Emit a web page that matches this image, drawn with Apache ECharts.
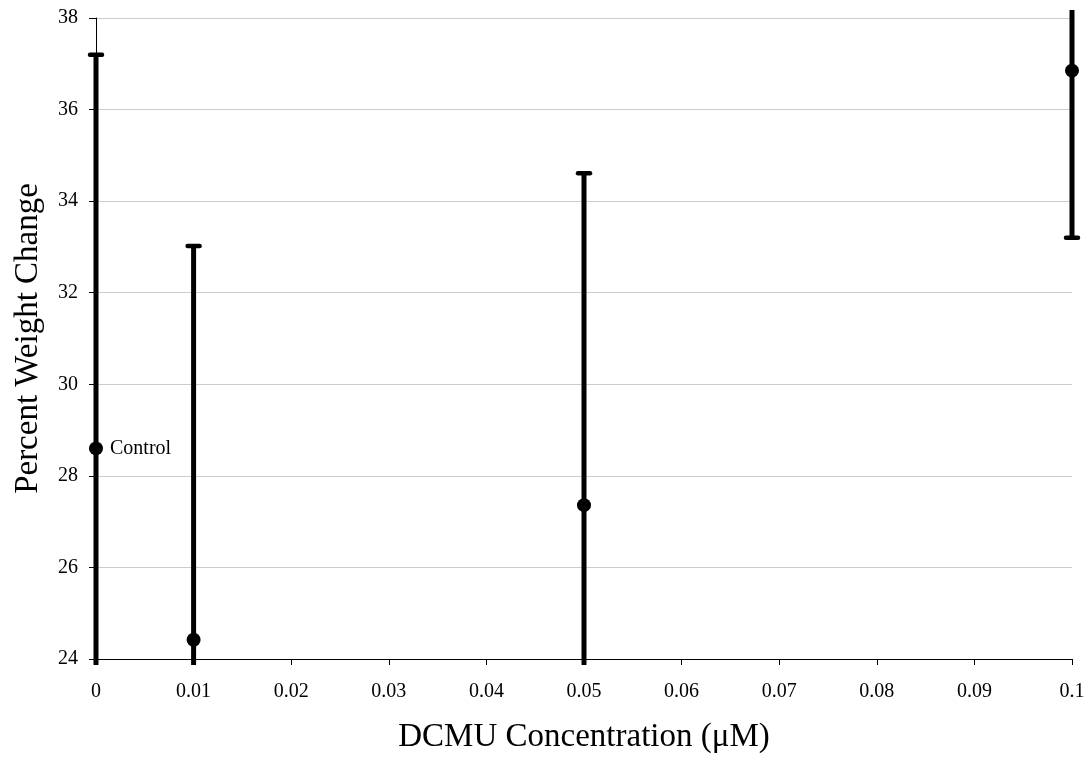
<!DOCTYPE html>
<html><head><meta charset="utf-8">
<script src="https://cdn.jsdelivr.net/npm/echarts@6/dist/echarts.min.js"></script>
<style>html,body{margin:0;padding:0;background:#fff}#c{width:1089px;height:761px}</style>
</head><body><div id="c"></div>
<script>
const concentrations = [0, 0.01, 0.05, 0.1];
const meanChange = [28.6, 24.42, 27.36, 36.85];
const errorAmount = [8.6, 8.6, 7.25, 3.65];
const pointLabels = ['Control', '', '', ''];
const xTicks = [0, 0.01, 0.02, 0.03, 0.04, 0.05, 0.06, 0.07, 0.08, 0.09, 0.1];
const yTicks = [24, 26, 28, 30, 32, 34, 36, 38];

const FONT = '"Liberation Serif","Times New Roman",serif';
const chart = echarts.init(document.getElementById('c'));
const errData = concentrations.map((x, i) => [x, meanChange[i] - errorAmount[i], meanChange[i] + errorAmount[i]]);
const ptData = concentrations.map((x, i) => ({ value: [x, meanChange[i]],
  label: { show: !!pointLabels[i], formatter: pointLabels[i], color: '#000' } }));

chart.setOption({
  animation: false,
  grid: { left: 96, right: 17, top: 18, bottom: 102 },
  xAxis: {
    type: 'value', min: 0, max: 0.1, interval: 0.01,
    name: 'DCMU Concentration (\u03bcM)', nameLocation: 'middle', nameGap: 62,
    nameTextStyle: { fontFamily: FONT, fontSize: 33, color: '#000' },
    axisLine: { show: true, lineStyle: { color: '#000', width: 1 } },
    axisTick: { show: true, length: 6, lineStyle: { color: '#000' } },
    axisLabel: { fontFamily: FONT, fontSize: 20, color: '#000', margin: 23,
      formatter: v => { const t = xTicks.find(k => Math.abs(k - v) < 1e-9); return t === undefined ? '' : String(t); } },
    splitLine: { show: false }
  },
  yAxis: {
    type: 'value', min: 24, max: 38, interval: 2,
    name: 'Percent Weight Change', nameLocation: 'middle', nameGap: 51,
    nameTextStyle: { fontFamily: FONT, fontSize: 33, color: '#000' },
    axisLine: { show: true, lineStyle: { color: '#000', width: 1 } },
    axisTick: { show: true, length: 7, lineStyle: { color: '#000' } },
    axisLabel: { fontFamily: FONT, fontSize: 20, color: '#000', margin: 18,
      formatter: v => { const t = yTicks.find(k => Math.abs(k - v) < 1e-9); return t === undefined ? '' : String(t); } },
    splitLine: { show: true, lineStyle: { color: '#cccccc', width: 1 } }
  },
  series: [
    {
      type: 'custom', clip: false, z: 3,
      data: errData,
      renderItem: (params, api) => {
        const x = api.value(0);
        const lo = api.coord([x, api.value(1)]);
        const hi = api.coord([x, api.value(2)]);
        const cs = params.coordSys;
        const top = cs.y - 8, bottom = cs.y + cs.height + 6;
        const yHi = Math.max(hi[1], top), yLo = Math.min(lo[1], bottom);
        const children = [{ type: 'line', shape: { x1: hi[0], y1: yHi, x2: lo[0], y2: yLo },
          style: { stroke: '#000', lineWidth: 5 } }];
        const capW = 6;
        if (hi[1] >= top) children.push({ type: 'line', shape: { x1: hi[0] - capW, y1: hi[1], x2: hi[0] + capW, y2: hi[1] },
          style: { stroke: '#000', lineWidth: 4.5, lineCap: 'round' } });
        if (lo[1] <= bottom) children.push({ type: 'line', shape: { x1: lo[0] - capW, y1: lo[1], x2: lo[0] + capW, y2: lo[1] },
          style: { stroke: '#000', lineWidth: 4.5, lineCap: 'round' } });
        return { type: 'group', children };
      }
    },
    {
      type: 'scatter', z: 4, clip: false,
      symbol: 'circle', symbolSize: 14,
      itemStyle: { color: '#000', opacity: 1 },
      label: { show: false, position: 'right', distance: 7, fontFamily: FONT, fontSize: 20, color: '#000' },
      data: ptData
    }
  ]
});
</script></body></html>
